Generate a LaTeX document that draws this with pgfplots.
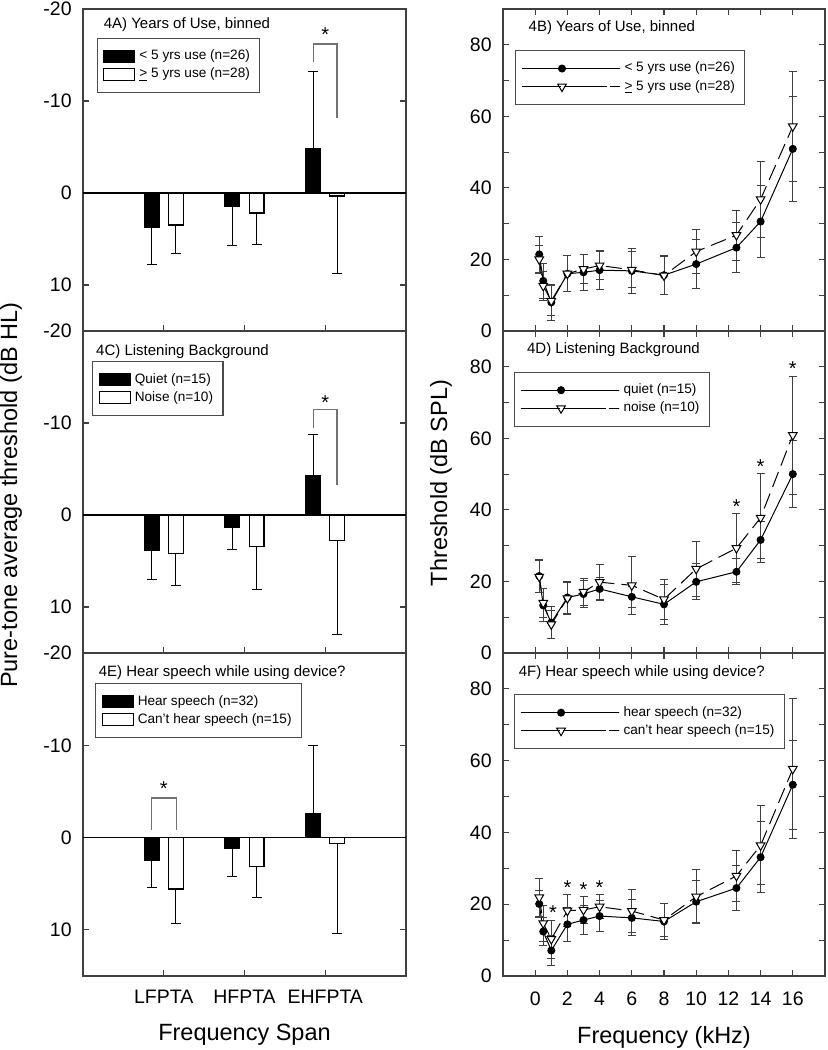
\documentclass[border=0pt]{standalone}
\usepackage{fontspec}
\setmainfont{Liberation Sans}
\usepackage{pgfplots}
\usepackage{pgfplotstable}
\pgfplotsset{compat=1.18}

\newcommand\tickfont{\fontsize{9.75pt}{11pt}\selectfont}
\newcommand\labfont{\fontsize{11.75pt}{14pt}\selectfont}
\newcommand\titfont{\fontsize{7.5pt}{9pt}\selectfont}
\newcommand\legfont{\fontsize{6.8pt}{8pt}\selectfont}
\newcommand\starfont{\fontsize{10pt}{12pt}\selectfont}

% ---- left panels: x = category (1 LFPTA, 2 HFPTA, 3 EHFPTA), y = mean, ep/em = one-sided error
\pgfplotstableread{
x y ep em
1 3.72 4.04 0
2 1.41 4.29 0
3 -4.80 0 8.40
}\dAk
\pgfplotstableread{
x y ep em
1 3.47 3.10 0
2 2.17 3.43 0
3 0.32 8.42 0
}\dAw
\pgfplotstableread{
x y ep em
1 3.89 3.13 0
2 1.35 2.43 0
3 -4.25 0 4.55
}\dCk
\pgfplotstableread{
x y ep em
1 4.15 3.52 0
2 3.45 4.65 0
3 2.80 10.18 0
}\dCw
\pgfplotstableread{
x y ep em
1 2.46 2.93 0
2 1.12 3.11 0
3 -2.60 0 7.40
}\dEk
\pgfplotstableread{
x y ep em
1 5.57 3.72 0
2 3.11 3.40 0
3 0.61 9.79 0
}\dEw

% ---- right panels: f (kHz), a = group 1 mean, ae = sd, b = group 2 mean, be = sd
\pgfplotstableread{
f a ae b be
0.25 21.4 5.0 20.0 4.0
0.5 14.0 5.0 12.6 4.0
1 8.0 5.0 8.4 4.2
2 16.0 5.0 16.0 5.0
3 16.4 5.0 17.3 4.0
4 17.0 5.5 18.3 4.0
6 16.8 6.2 17.1 5.0
8 15.6 5.4 15.5 5.3
10 18.7 6.8 22.2 6.2
12.5 23.3 7.0 26.8 7.0
14 30.6 10.0 36.8 10.6
16 50.9 14.6 57.2 15.3
}\dB
\pgfplotstableread{
f a ae b be
0.25 21.5 4.6 21.3 4.5
0.5 13.3 4.6 14.0 4.0
1 8.5 4.4 8.0 4.0
2 15.5 4.6 15.3 4.5
3 16.5 3.8 17.1 3.8
4 17.9 3.2 19.8 4.9
6 15.7 3.0 18.9 8.2
8 13.6 5.5 15.0 5.6
10 19.9 5.0 23.5 7.6
12.5 22.7 3.6 29.3 9.7
14 31.6 5.2 37.8 12.4
16 50.0 9.4 60.9 16.5
}\dD
\pgfplotstableread{
f a ae b be
0.25 20.1 3.7 21.9 5.3
0.5 12.4 4.0 14.7 5.0
1 7.1 4.2 10.3 5.3
2 14.4 4.8 18.2 4.5
3 15.6 4.0 18.4 3.8
4 16.7 4.4 19.3 3.4
6 16.2 5.0 18.1 6.0
8 15.2 5.0 15.6 4.6
10 20.7 5.8 22.1 7.6
12.5 24.5 6.3 27.9 7.0
14 33.1 9.9 36.4 11.0
16 53.3 12.4 57.7 19.5
}\dF

\pgfplotsset{
  base/.style={
    scale only axis,
    axis line style={black!75, line width=0.6pt},
    tick style={black!75, line width=0.6pt},
    tick align=inside,
    major tick length=2.8pt,
    minor tick length=2.8pt,
    xticklabel style={font=\tickfont, anchor=center, inner sep=0pt},
    yticklabel style={font=\tickfont, anchor=east, inner sep=0pt, xshift=-5.5pt},
    label style={font=\labfont},
    legend cell align=left,
    legend style={draw=black!70, line width=0.6pt, fill=white, inner xsep=3pt, inner ysep=4.5pt,
      anchor=north west, font=\legfont, nodes={inner xsep=2pt, inner ysep=1.3pt}, cells={anchor=west}},
  },
  leftax/.style={base, width=161.5pt, height=161pt,
    xmin=0, xmax=4, ymin=-20, ymax=15, y dir=reverse,
    xtick={1,2,3}, ytick={-20,-10,0,10}, yticklabels={-20,-10,0,10},
    xtick pos=bottom, ytick pos=both,
    xticklabel style={yshift=-10.5pt}},
  rightax/.style={base, width=161pt, height=161pt,
    xmin=-2, xmax=18, ymin=0, ymax=90,
    xtick={0,2,4,6,8,10,12,14,16}, ytick={0,20,40,60,80}, yticklabels={0,20,40,60,80},
    minor ytick={10,30,50,70},
    xtick pos=both, ytick pos=both,
    xticklabel style={yshift=-11.5pt}},
  blackbar/.style={ybar, bar width=0.185, bar shift=0pt, fill=black, draw=black, line width=0.6pt,
    legend image code/.code={\draw[fill=black, draw=black, line width=0.6pt] (0pt,-3pt) rectangle (15.5pt,3pt);},
    error bars/y dir=both, error bars/y explicit,
    error bars/error bar style={black, line width=0.5pt},
    error bars/error mark options={rotate=90, mark size=2.5pt, black, line width=0.5pt}},
  whitebar/.style={ybar, bar width=0.185, bar shift=0pt, fill=white, draw=black, line width=0.6pt,
    legend image code/.code={\draw[fill=white, draw=black, line width=0.6pt] (0pt,-3pt) rectangle (15.5pt,3pt);},
    error bars/y dir=both, error bars/y explicit,
    error bars/error bar style={black, line width=0.5pt},
    error bars/error mark options={rotate=90, mark size=2.5pt, black, line width=0.5pt}},
  circ/.style={black, line width=0.5pt, mark=*, mark size=1.75pt, mark options={solid, fill=black},
    legend image code/.code={\draw[black, line width=0.5pt, mark=*, mark size=1.75pt, mark repeat=2, mark phase=2]
      plot coordinates {(0pt,0pt) (20pt,0pt) (40pt,0pt)}; \path (0pt,0pt) rectangle (49pt,0pt);},
    error bars/y dir=both, error bars/y explicit,
    error bars/error bar style={black!75, line width=0.5pt, solid},
    error bars/error mark options={rotate=90, mark size=2pt, black!75, line width=0.5pt, solid}},
  tri/.style={black, line width=0.5pt, dash pattern=on 8pt off 3.5pt, mark=triangle*, mark size=2.5pt,
    mark options={solid, rotate=180, fill=white, draw=black},
    legend image code/.code={\draw[black, line width=0.5pt, solid] (0pt,0pt) -- (10pt,0pt) (14pt,0pt) -- (26pt,0pt) (30pt,0pt) -- (40pt,0pt);
      \draw[black, line width=0.5pt, only marks, mark=triangle*, mark size=2.5pt,
      mark options={solid, rotate=180, fill=white, draw=black}]
      plot coordinates {(20pt,0pt)}; \path (0pt,0pt) rectangle (49pt,0pt);},
    error bars/y dir=both, error bars/y explicit,
    error bars/error bar style={black!75, line width=0.5pt, solid},
    error bars/error mark options={rotate=90, mark size=2pt, black!75, line width=0.5pt, solid}},
  zeroline/.style={black, line width=0.6pt, forget plot},
  bracket/.style={black!55, line width=0.6pt, forget plot},
}

\begin{document}
\begin{tikzpicture}
\path[use as bounding box] (0,0) rectangle (413.5pt,-525pt);

% ===================== 4A =====================
\begin{axis}[leftax, at={(41.5pt,-4.5pt)}, anchor=north west, xticklabels={},
  legend style={at={(0.0424,0.911)}}]
\addplot[zeroline] coordinates {(0,0) (4,0)};
\addplot[blackbar] table[x expr=\thisrow{x}-0.15, y=y, y error plus=ep, y error minus=em] {\dAk};
\addlegendentry{\textless{} 5 yrs use (n=26)}
\addplot[whitebar] table[x expr=\thisrow{x}+0.15, y=y, y error plus=ep, y error minus=em] {\dAw};
\addlegendentry{\underline{\textgreater} 5 yrs use (n=28)}
\addplot[bracket] coordinates {(2.85,-14.2) (2.85,-16.2) (3.145,-16.2) (3.145,-8.1)};
\node[font=\starfont] at (axis cs:3.0,-17.2) {*};
\node[font=\titfont, anchor=base west] at (axis description cs:0.0424,0.938) {4A) Years of Use, binned};
\end{axis}

% ===================== 4C =====================
\begin{axis}[leftax, at={(41.5pt,-165.5pt)}, anchor=north west, xticklabels={},
  legend style={at={(0.028,0.907)}},
  ylabel={Pure-tone average threshold (dB HL)},
  ylabel style={at={(axis description cs:-0.223,0.49)}, anchor=center}]
\addplot[zeroline] coordinates {(0,0) (4,0)};
\addplot[blackbar] table[x expr=\thisrow{x}-0.15, y=y, y error plus=ep, y error minus=em] {\dCk};
\addlegendentry{Quiet (n=15)}
\addplot[whitebar] table[x expr=\thisrow{x}+0.15, y=y, y error plus=ep, y error minus=em] {\dCw};
\addlegendentry{Noise (n=10)}
\addplot[bracket] coordinates {(2.85,-9.45) (2.85,-11.5) (3.145,-11.5) (3.145,-3.3)};
\node[font=\starfont] at (axis cs:3.0,-12.2) {*};
\node[font=\titfont, anchor=base west] at (axis description cs:0.019,0.925) {4C) Listening Background};
\end{axis}

% ===================== 4E =====================
\begin{axis}[leftax, at={(41.5pt,-326.5pt)}, anchor=north west, height=161.5pt,
  xticklabels={LFPTA,HFPTA,EHFPTA},
  legend style={at={(0.037,0.907)}},
  xlabel={Frequency Span},
  xlabel style={at={(axis description cs:0.5,-0.183)}, anchor=center}]
\addplot[zeroline] coordinates {(0,0) (4,0)};
\addplot[blackbar] table[x expr=\thisrow{x}-0.15, y=y, y error plus=ep, y error minus=em] {\dEk};
\addlegendentry{Hear speech (n=32)}
\addplot[whitebar] table[x expr=\thisrow{x}+0.15, y=y, y error plus=ep, y error minus=em] {\dEw};
\addlegendentry{Can't hear speech (n=15)}
\addplot[bracket] coordinates {(0.85,-0.8) (0.85,-4.3) (1.16,-4.3) (1.16,-0.8)};
\node[font=\starfont] at (axis cs:1.0,-5.3) {*};
\node[font=\titfont, anchor=base west] at (axis description cs:0.027,0.927) {4E) Hear speech while using device?};
\end{axis}

% ===================== 4B =====================
\begin{axis}[rightax, at={(251.5pt,-4.5pt)}, anchor=north west, xticklabels={},
  legend style={at={(0.037,0.873)}}]
\addplot[circ] table[x=f, y=a, y error=ae] {\dB};
\addlegendentry{\textless{} 5 yrs use (n=26)}
\addplot[tri] table[x=f, y=b, y error=be] {\dB};
\addlegendentry{\underline{\textgreater} 5 yrs use (n=28)}
\node[font=\titfont, anchor=base west] at (axis description cs:0.058,0.930) {4B) Years of Use, binned};
\end{axis}

% ===================== 4D =====================
\begin{axis}[rightax, at={(251.5pt,-165.5pt)}, anchor=north west, xticklabels={},
  legend style={at={(0.034,0.874)}},
  ylabel={Threshold (dB SPL)},
  ylabel style={at={(axis description cs:-0.1925,0.528)}, anchor=center}]
\addplot[circ] table[x=f, y=a, y error=ae] {\dD};
\addlegendentry{quiet (n=15)}
\addplot[tri] table[x=f, y=b, y error=be] {\dD};
\addlegendentry{noise (n=10)}
\node[font=\starfont] at (axis cs:12.5,41.0) {*};
\node[font=\starfont] at (axis cs:14,52.0) {*};
\node[font=\starfont] at (axis cs:16,79.5) {*};
\node[font=\titfont, anchor=base west] at (axis description cs:0.053,0.929) {4D) Listening Background};
\end{axis}

% ===================== 4F =====================
\begin{axis}[rightax, at={(251.5pt,-326.5pt)}, anchor=north west, height=161.5pt,
  xticklabels={0,2,4,6,8,10,12,14,16},
  legend style={at={(0.034,0.873)}},
  xlabel={Frequency (kHz)},
  xlabel style={at={(axis description cs:0.5,-0.189)}, anchor=center}]
\addplot[circ] table[x=f, y=a, y error=ae] {\dF};
\addlegendentry{hear speech (n=32)}
\addplot[tri] table[x=f, y=b, y error=be] {\dF};
\addlegendentry{can't hear speech (n=15)}
\node[font=\starfont] at (axis cs:1.1,17.7) {*};
\node[font=\starfont] at (axis cs:2,24.7) {*};
\node[font=\starfont] at (axis cs:3,24.2) {*};
\node[font=\starfont] at (axis cs:4,24.7) {*};
\node[font=\titfont, anchor=base west] at (axis description cs:0.027,0.927) {4F) Hear speech while using device?};
\end{axis}
\end{tikzpicture}
\end{document}
